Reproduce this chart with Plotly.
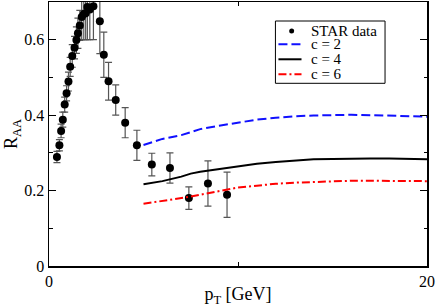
import plotly.graph_objects as go

# STAR data
star_pt = [0.42, 0.55, 0.64, 0.73, 0.83, 0.93, 1.03, 1.12, 1.23, 1.35, 1.45, 1.53,
           1.63, 1.73, 1.84, 1.94, 2.03, 2.16, 2.35,
           2.69, 2.90, 3.15, 3.53, 4.03, 4.65, 5.44, 6.40, 7.40, 8.41, 9.42]
star_raa = [0.289, 0.320, 0.358, 0.388, 0.428, 0.458, 0.489, 0.528, 0.557, 0.579, 0.599, 0.617,
            0.638, 0.660, 0.668, 0.670, 0.687, 0.680, 0.689,
            0.649, 0.560, 0.490, 0.440, 0.380, 0.320, 0.269, 0.260, 0.180, 0.219, 0.189]
star_err = [0.015, 0.015, 0.018, 0.020, 0.020, 0.020, 0.025, 0.025, 0.030, 0.030, 0.035, 0.040,
            0.040, 0.060, 0.068, 0.070, 0.087, 0.080, 0.089,
            0.086, 0.060, 0.050, 0.040, 0.040, 0.040, 0.030, 0.040, 0.030, 0.060, 0.060]

# model curves
model_pt = [5, 6, 7, 7.5, 8, 9, 10, 11, 12, 13, 14, 15, 16, 17, 18, 19, 20]
raa_c2 = [0.321, 0.337, 0.347, 0.356, 0.363, 0.372, 0.381, 0.388, 0.393, 0.397, 0.399,
          0.400, 0.401, 0.400, 0.399, 0.398, 0.396]
raa_c4 = [0.217, 0.225, 0.237, 0.245, 0.250, 0.257, 0.265, 0.271, 0.276, 0.280, 0.283,
          0.284, 0.285, 0.285, 0.285, 0.284, 0.283]
raa_c6 = [0.165, 0.172, 0.180, 0.184, 0.189, 0.199, 0.208, 0.213, 0.218, 0.221, 0.223,
          0.225, 0.226, 0.226, 0.226, 0.225, 0.225]

series_names = ["STAR data", "c = 2", "c = 4", "c = 6"]
x_ticks = [0, 20]
y_ticks = [0, 0.2, 0.4, 0.6]

FONT = "Liberation Serif"
BLUE_DASH = "9px,4px"
RED_DASH = "8px,3px,2px,3px"

fig = go.Figure()
fig.add_trace(go.Scatter(
    x=star_pt, y=star_raa, mode="markers", name=series_names[0],
    marker=dict(color="black", size=8, symbol="circle"),
    error_y=dict(type="data", array=star_err, visible=True, color="#555555",
                 thickness=1.2, width=3.5),
))
fig.add_trace(go.Scatter(
    x=model_pt, y=raa_c2, mode="lines", name=series_names[1],
    line=dict(color="#1010ff", width=2, dash=BLUE_DASH),
))
fig.add_trace(go.Scatter(
    x=model_pt, y=raa_c4, mode="lines", name=series_names[2],
    line=dict(color="black", width=2),
))
fig.add_trace(go.Scatter(
    x=model_pt, y=raa_c6, mode="lines", name=series_names[3],
    line=dict(color="#ff0000", width=2, dash=RED_DASH),
))

axis_common = dict(
    showline=True, linecolor="black", linewidth=1.5, mirror="allticks",
    ticks="inside", tickcolor="black", showgrid=False, zeroline=False,
    tickfont=dict(family=FONT, size=16, color="black"),
    automargin=False,
)

fig.update_xaxes(
    range=[0, 20], tickvals=x_ticks, ticklen=7, tickwidth=1,
    minor=dict(dtick=10, ticklen=4, ticks="inside", tickcolor="black"),
    title=dict(text="p<sub>T</sub> [GeV]", font=dict(family=FONT, size=18, color="black"),
               standoff=4),
    **axis_common,
)
fig.update_yaxes(
    range=[0, 0.7], tickvals=y_ticks, ticklen=7, tickwidth=1,
    minor=dict(dtick=0.1, ticklen=3.5, ticks="inside", tickcolor="black"),
    title=dict(text="R<sub>AA</sub>", font=dict(family=FONT, size=18, color="black"),
               standoff=2),
    **axis_common,
)

# hand-built legend box (paper coordinates)
shapes = [
    dict(type="rect", xref="paper", yref="paper", x0=0.599, x1=0.889, y0=0.692, y1=0.928,
         line=dict(color="black", width=1), fillcolor="white", layer="above"),
    dict(type="circle", xref="paper", yref="paper", x0=0.642 - 0.0066, x1=0.642 + 0.0066,
         y0=0.890 - 0.0095, y1=0.890 + 0.0095, line=dict(color="black", width=0),
         fillcolor="black", layer="above"),
    dict(type="line", xref="paper", yref="paper", x0=0.607, x1=0.668, y0=0.840, y1=0.840,
         line=dict(color="#1010ff", width=2, dash=BLUE_DASH), layer="above"),
    dict(type="line", xref="paper", yref="paper", x0=0.607, x1=0.668, y0=0.783, y1=0.783,
         line=dict(color="black", width=2), layer="above"),
    dict(type="line", xref="paper", yref="paper", x0=0.607, x1=0.668, y0=0.726, y1=0.726,
         line=dict(color="#ff0000", width=2, dash=RED_DASH), layer="above"),
]
legend_y = [0.890, 0.840, 0.783, 0.726]
annotations = [
    dict(text=name, xref="paper", yref="paper", x=0.688, y=yy, xanchor="left",
         yanchor="middle", showarrow=False,
         font=dict(family=FONT, size=15, color="black"))
    for name, yy in zip(series_names, legend_y)
]

fig.update_layout(
    width=436, height=307,
    margin=dict(l=49, r=9, t=2, b=41),
    plot_bgcolor="white", paper_bgcolor="white",
    font=dict(family=FONT, color="black"),
    showlegend=False,
    hovermode=False,
    shapes=shapes,
    annotations=annotations,
)

fig.write_html("out.html", config={"displayModeBar": False, "staticPlot": True},
               post_script="document.body.style.margin='0';document.body.style.overflow='hidden';")
